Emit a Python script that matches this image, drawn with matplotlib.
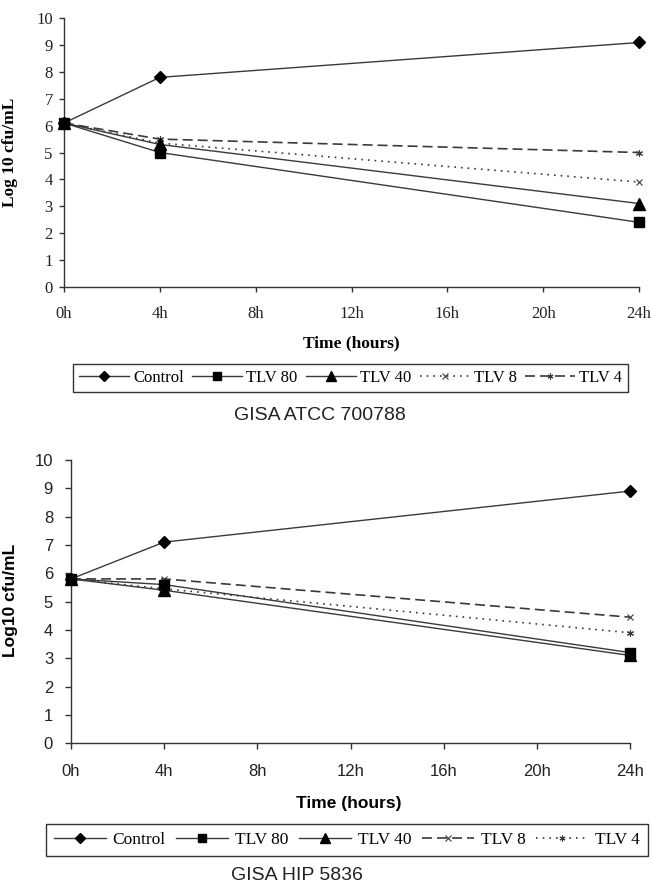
import matplotlib
matplotlib.use('Agg')
import matplotlib.pyplot as plt

# Tiempo de muestreo (horas)
hours = [0, 4, 24]
hour_ticks = [0, 4, 8, 12, 16, 20, 24]
hour_labels = ['0h', '4h', '8h', '12h', '16h', '20h', '24h']

# GISA ATCC 700788
atcc_control = [6.1, 7.8, 9.1]
atcc_tlv80 = [6.1, 5.0, 2.4]
atcc_tlv40 = [6.1, 5.3, 3.1]
atcc_tlv8 = [6.1, 5.35, 3.9]
atcc_tlv4 = [6.1, 5.5, 5.0]

# GISA HIP 5836
hip_control = [5.8, 7.1, 8.9]
hip_tlv80 = [5.8, 5.6, 3.2]
hip_tlv40 = [5.8, 5.4, 3.1]
hip_tlv8 = [5.8, 5.8, 4.45]
hip_tlv4 = [5.8, 5.45, 3.9]

SERIF = 'Liberation Serif'
SANS = 'Liberation Sans'
LINE = '#3a3a3a'
ASTER = (6, 2, 0)

fig = plt.figure(figsize=(6.52, 8.86), dpi=100)
ax1 = fig.add_axes([0.0982, 0.6764, 0.8819, 0.3029])
ax2 = fig.add_axes([0.1089, 0.1611, 0.8574, 0.3198])


def style_axes(ax, family, tick_size, xpad, ypad, tlen):
    ax.set_xlim(0, 24)
    ax.set_ylim(0, 10)
    ax.set_xticks(hour_ticks)
    ax.set_xticklabels(hour_labels)
    ax.set_yticks(range(0, 11))
    for s in ['top', 'right']:
        ax.spines[s].set_visible(False)
    for s in ['left', 'bottom']:
        ax.spines[s].set_color('#333333')
        ax.spines[s].set_linewidth(1.0)
    ax.tick_params(direction='out', length=tlen, width=1.0, color='#333333',
                   labelsize=tick_size, labelcolor='#222222')
    ax.tick_params(axis='x', pad=xpad)
    ax.tick_params(axis='y', pad=ypad)
    for lab in ax.get_xticklabels() + ax.get_yticklabels():
        lab.set_family(family)


def draw(ax, ctrl, t80, t40, t8, t4, t8_style, t4_style):
    ax.plot(hours, ctrl, color=LINE, lw=1.0, marker='D', ms=6,
            mfc='black', mec='black', label='Control', clip_on=False, zorder=4)
    ax.plot(hours, t80, color=LINE, lw=1.0, marker='s', ms=7.5,
            mfc='black', mec='black', label='TLV 80', clip_on=False, zorder=5)
    ax.plot(hours, t40, color=LINE, lw=1.0, marker='^', ms=8,
            mfc='black', mec='black', label='TLV 40', clip_on=False, zorder=4)
    ax.plot(hours, t8, color=LINE, lw=1.2, ls=t8_style[0], marker=t8_style[1],
            ms=5, mec=LINE, mew=0.8, label='TLV 8', clip_on=False, zorder=3)
    ax.plot(hours, t4, color=LINE, lw=1.2, ls=t4_style[0], marker=t4_style[1],
            ms=5, mec=LINE, mew=0.8, label='TLV 4', clip_on=False, zorder=3)


# ---- panel superior ----
style_axes(ax1, SERIF, 12, xpad=10, ypad=4.3, tlen=3.8)
draw(ax1, atcc_control, atcc_tlv80, atcc_tlv40, atcc_tlv8, atcc_tlv4,
     ((0, (1, 3)), 'x'), ((0, (6, 3)), ASTER))
ax1.set_xlabel('Time (hours)', family=SERIF, fontweight='bold', fontsize=12.5)
ax1.set_ylabel('Log 10 cfu/mL', family=SERIF, fontweight='bold', fontsize=12.5)
ax1.xaxis.set_label_coords(0.50, -0.18)
ax1.yaxis.set_label_coords(-0.08, 0.502)
leg1 = ax1.legend(loc='center', bbox_to_anchor=(0.5376, 0.5734),
                  bbox_transform=fig.transFigure, ncol=5, frameon=True,
                  fancybox=False, edgecolor='#333333', framealpha=1,
                  prop={'family': SERIF, 'size': 12}, handlelength=3.0,
                  handletextpad=0.25, columnspacing=0.5, borderpad=0.35,
                  markerscale=0.85)
leg1.get_frame().set_linewidth(1.0)
fig.text(0.491, 1 - 415 / 886, 'GISA ATCC 700788', family=SANS, fontsize=14,
         ha='center', va='center', color='#222222')

# ---- panel inferior ----
style_axes(ax2, SANS, 12, xpad=10.5, ypad=8.6, tlen=4.3)
draw(ax2, hip_control, hip_tlv80, hip_tlv40, hip_tlv8, hip_tlv4,
     ((0, (6, 3)), 'x'), ((0, (1, 3)), ASTER))
ax2.set_xlabel('Time (hours)', family=SANS, fontweight='bold', fontsize=12.5)
ax2.set_ylabel('Log10 cfu/mL', family=SANS, fontweight='bold', fontsize=12.5)
ax2.xaxis.set_label_coords(0.497, -0.186)
ax2.yaxis.set_label_coords(-0.095, 0.506)
leg2 = ax2.legend(loc='center', bbox_to_anchor=(0.532, 0.0519),
                  bbox_transform=fig.transFigure, ncol=5, frameon=True,
                  fancybox=False, edgecolor='#333333', framealpha=1,
                  prop={'family': SERIF, 'size': 12.5}, handlelength=3.0,
                  handletextpad=0.4, columnspacing=0.6, borderpad=0.45,
                  markerscale=0.85)
leg2.get_frame().set_linewidth(1.0)
fig.text(0.455, 1 - 876 / 886, 'GISA HIP 5836', family=SANS, fontsize=14,
         ha='center', va='center', color='#222222')

fig.savefig('out.png', dpi=100, facecolor='white')
plt.close(fig)
